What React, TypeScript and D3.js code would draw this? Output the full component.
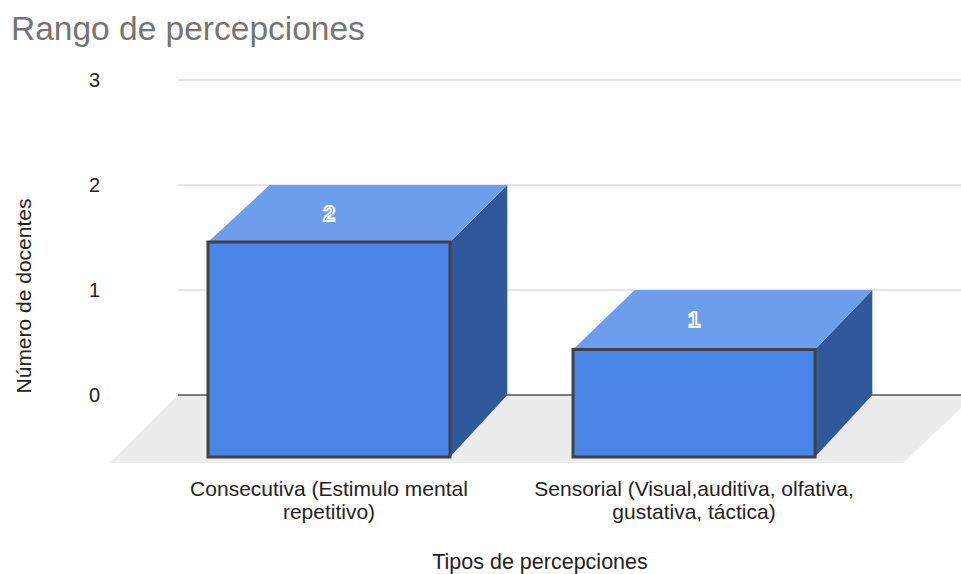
import React from "react";
import * as d3 from "d3";

const title = "Rango de percepciones";
const categories = [
  "Consecutiva (Estimulo mental repetitivo)",
  "Sensorial (Visual,auditiva, olfativa, gustativa, táctica)",
];
const categoryLines = [
  ["Consecutiva (Estimulo mental", "repetitivo)"],
  ["Sensorial (Visual,auditiva, olfativa,", "gustativa, táctica)"],
];
const values = [2, 1];
const yTicks = [0, 1, 2, 3];
const yTitle = "Número de docentes";
const xTitle = "Tipos de percepciones";

const W = 961;
const H = 574;
const FONT = "'Liberation Sans', Arial, Helvetica, sans-serif";

export default function App() {
  const yFront = d3.scaleLinear().domain([0, 3]).range([457, 134.5]);
  const yBack = d3.scaleLinear().domain([0, 3]).range([395, 80]);
  const xFront = d3
    .scaleBand<string>()
    .domain(categories)
    .range([146.5, 876.5])
    .paddingInner(0.337)
    .paddingOuter(0.1685);
  const xBack = d3
    .scaleBand<string>()
    .domain(categories)
    .range([206, 936])
    .paddingInner(0.349)
    .paddingOuter(0.1745);

  const floorFrontY = yFront(0) + 6;
  const floorPts: [number, number][] = [
    [110, floorFrontY],
    [903, floorFrontY],
    [975, yBack(0)],
    [178, yBack(0)],
  ];
  const poly = (pts: [number, number][]) => pts.map((p) => p.join(",")).join(" ");

  return (
    <svg
      width={W}
      height={H}
      style={{ position: "absolute", left: 0, top: 0, display: "block", background: "#fff" }}
    >
      <text x={11} y={40} fontFamily={FONT} fontSize={33.5} fill="#757575">
        {title}
      </text>

      <polygon points={poly(floorPts)} fill="#ececec" />

      {yTicks.map((t) => (
        <g key={t}>
          <line
            x1={178}
            x2={W}
            y1={yBack(t)}
            y2={yBack(t)}
            stroke={t === 0 ? "#555" : "#cccccc"}
            strokeWidth={t === 0 ? 1.3 : 1}
          />
          <text
            x={100}
            y={yBack(t)}
            textAnchor="end"
            dominantBaseline="central"
            fontFamily={FONT}
            fontSize={20}
            fill="#222"
          >
            {t}
          </text>
        </g>
      ))}

      {categories.map((c, i) => {
        const v = values[i];
        const f0 = xFront(c)!;
        const f1 = f0 + xFront.bandwidth();
        const b0 = xBack(c)!;
        const b1 = b0 + xBack.bandwidth();
        const yfTop = yFront(v);
        const ybTop = yBack(v);
        const yf0 = yFront(0);
        const yb0 = yBack(0);
        const cx = (f0 + f1) / 2;
        return (
          <g key={c}>
            <polygon
              points={poly([
                [f1, yfTop],
                [b1, ybTop],
                [b1, yb0],
                [f1, yf0],
              ])}
              fill="#30599b"
            />
            <polygon
              points={poly([
                [f0, yfTop],
                [b0, ybTop],
                [b1, ybTop],
                [f1, yfTop],
              ])}
              fill="#6d9eeb"
            />
            <rect
              x={f0}
              y={yfTop}
              width={f1 - f0}
              height={yf0 - yfTop}
              fill="#4a86e8"
              stroke="#424242"
              strokeWidth={3}
            />
            <text
              x={cx}
              y={(yfTop + ybTop) / 2}
              textAnchor="middle"
              dominantBaseline="central"
              fontFamily={FONT}
              fontSize={22}
              fontWeight="bold"
              fill="#4a86e8"
              stroke="#ffffff"
              strokeWidth={1.8}
            >
              {v}
            </text>
            {categoryLines[i].map((line, j) => (
              <text
                key={j}
                x={cx}
                y={496 + j * 23}
                textAnchor="middle"
                fontFamily={FONT}
                fontSize={21}
                fill="#222"
              >
                {line}
              </text>
            ))}
          </g>
        );
      })}

      <text
        transform={`translate(31,296) rotate(-90)`}
        textAnchor="middle"
        fontFamily={FONT}
        fontSize={21}
        fill="#222"
      >
        {yTitle}
      </text>
      <text x={540} y={569} textAnchor="middle" fontFamily={FONT} fontSize={21.5} fill="#222">
        {xTitle}
      </text>
    </svg>
  );
}
